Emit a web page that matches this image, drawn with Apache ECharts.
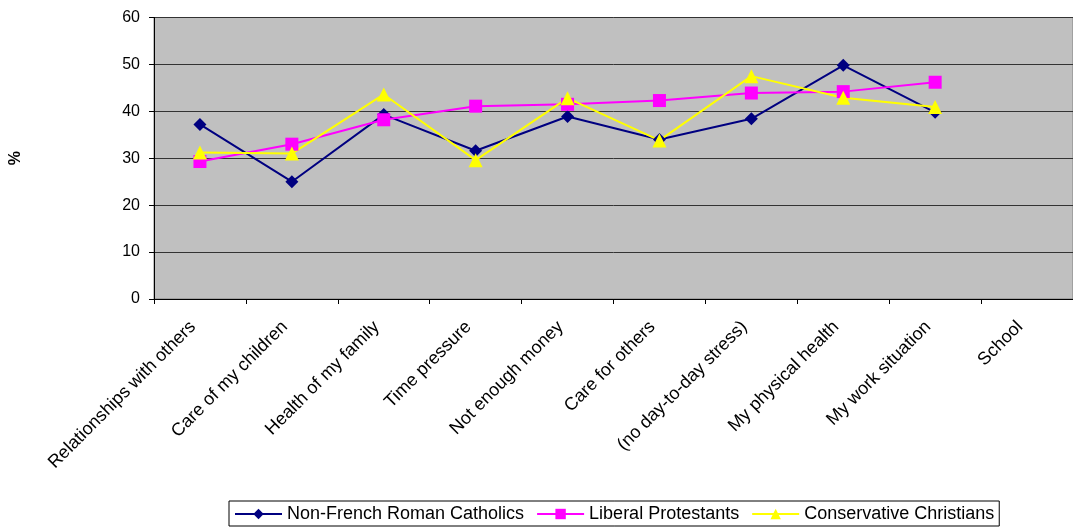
<!DOCTYPE html>
<html>
<head>
<meta charset="utf-8">
<script src="https://cdn.jsdelivr.net/npm/echarts@6/dist/echarts.min.js"></script>
<style>html,body{margin:0;padding:0;background:#fff}#c{width:1073px;height:527px}</style>
</head>
<body>
<div id="c"></div>
<script>
var categories = ["Relationships with others","Care of my children","Health of my family","Time pressure","Not enough money","Care for others","(no day-to-day stress)","My physical health","My work situation","School"];
var catholics = [37.2, 25.0, 39.3, 31.6, 38.9, 34.0, 38.4, 49.8, 39.8, null];
var liberal = [29.3, 33.0, 38.2, 41.1, 41.5, 42.3, 43.9, 44.2, 46.2, null];
var conservative = [31.2, 31.0, 43.6, 29.6, 42.8, 33.8, 47.5, 42.9, 40.9, null];
var yTicks = [0, 60, 10];

var chart = echarts.init(document.getElementById('c'));
chart.setOption({
  animation: false,
  textStyle: {fontFamily: 'Liberation Sans, Arial, sans-serif'},
  grid: {left: 153, width: 926, top: 17.5, bottom: 228, backgroundColor: '#c0c0c0', show: true, borderColor: '#808080', borderWidth: 1},
  legend: {
    bottom: 1, left: 229,
    backgroundColor: '#fff', borderColor: '#000', borderWidth: 1,
    padding: [4, 5, 3, 5], itemGap: 12, itemWidth: 47, itemHeight: 13,
    textStyle: {fontSize: 18, color: '#000', fontFamily: 'Liberation Sans, Arial, sans-serif'},
    data: ['Non-French Roman Catholics', 'Liberal Protestants', 'Conservative Christians']
  },
  xAxis: {
    type: 'category', data: categories, boundaryGap: true,
    axisLine: {lineStyle: {color: '#000', width: 1}},
    axisTick: {show: true, length: 5, lineStyle: {color: '#000'}},
    axisLabel: {rotate: 45, fontSize: 18, color: '#000', margin: 18, interval: 0, padding: [0, 10, 0, 0]}
  },
  yAxis: {
    type: 'value', min: yTicks[0], max: yTicks[1], interval: yTicks[2],
    name: '%', nameLocation: 'middle', nameGap: 130, nameRotate: 90,
    nameTextStyle: {fontSize: 16, fontWeight: 'bold', color: '#000'},
    axisLine: {show: true, lineStyle: {color: '#000'}},
    axisTick: {show: true, length: 5, lineStyle: {color: '#000'}},
    axisLabel: {fontSize: 16, color: '#000', margin: 14},
    splitLine: {lineStyle: {color: '#333', width: 1}}
  },
  series: [
    {name: 'Non-French Roman Catholics', type: 'line', data: catholics, symbol: 'diamond', symbolSize: 13,
     itemStyle: {color: '#000080'}, lineStyle: {color: '#000080', width: 2}},
    {name: 'Liberal Protestants', type: 'line', data: liberal, symbol: 'rect', symbolSize: 13,
     itemStyle: {color: '#ff00ff'}, lineStyle: {color: '#ff00ff', width: 2}},
    {name: 'Conservative Christians', type: 'line', data: conservative, symbol: 'triangle', symbolSize: 14,
     itemStyle: {color: '#ffff00'}, lineStyle: {color: '#ffff00', width: 2}}
  ]
});
</script>
</body>
</html>
